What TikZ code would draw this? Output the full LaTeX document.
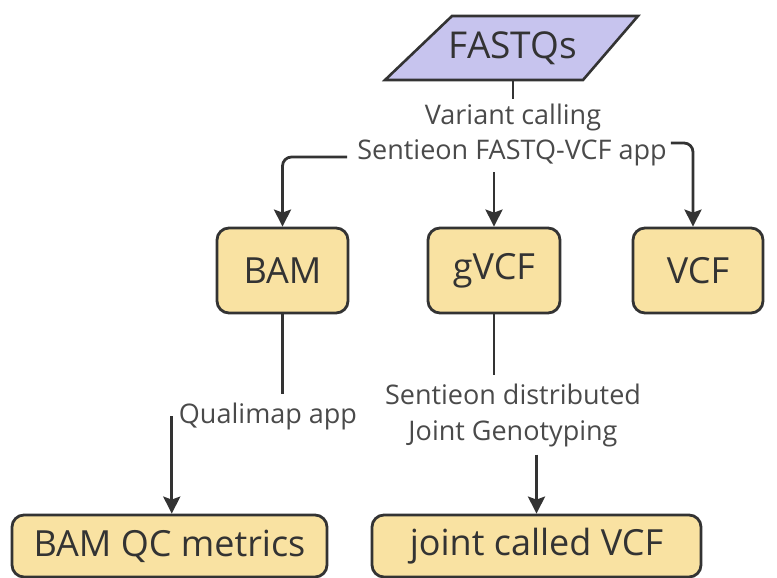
\documentclass[tikz,border=0pt]{standalone}
\usepackage{fontspec}
\setmainfont{Open Sans}
\usetikzlibrary{arrows.meta}
\definecolor{boxfill}{HTML}{F9E2A2}
\definecolor{parafill}{HTML}{C7C4EE}
\definecolor{edge}{HTML}{333333}
\definecolor{labcol}{HTML}{4A4A4A}
\tikzset{
  boxnode/.style={draw=edge, line width=2.8pt, fill=boxfill, rounded corners=12pt, text=edge, inner sep=0pt,
    font=\fontsize{36}{40}\selectfont},
  labnode/.style={text=labcol, inner sep=6pt, font=\fontsize{27}{36}\selectfont, align=center},
  conn/.style={draw=edge, line width=2.8pt},
  arr/.style={conn, -{Stealth[length=17pt,width=17pt,inset=3pt]}},
}
\begin{document}
\begin{tikzpicture}[x=1pt,y=-1pt]
\useasboundingbox (0,0) rectangle (777,578);
% parallelogram
\coordinate (pbl) at (385,80);
\coordinate (pbr) at (583,80);
\coordinate (ptr) at (638,16);
\coordinate (ptl) at (452,16);
\draw[draw=edge, line width=2.6pt, fill=parafill, line join=miter] (pbl) -- (pbr) -- (ptr) -- (ptl) -- cycle;
\node[minimum height=64pt, inner sep=0pt, text=edge, font=\fontsize{37}{42}\selectfont] (fastq) at (513,48) {FASTQs};

\node[labnode] (laba) at (513,117) {Variant calling};
\node[labnode] (labb) at (512,153) {Sentieon FASTQ-VCF app};

\node[boxnode, minimum width=131pt, minimum height=85pt] (bam) at (282.5,270.5) {BAM};
\node[boxnode, minimum width=132pt, minimum height=85pt] (gvcf) at (494,270.5) {gVCF};
\node[boxnode, minimum width=130pt, minimum height=85pt] (vcf) at (698,270.5) {VCF};

\node[labnode] (qlab) at (268,416) {Qualimap app};
\node[labnode] (jlab) at (513,415) {Sentieon distributed\\Joint Genotyping};

\node[boxnode, minimum width=315pt, minimum height=62pt] (bamqc) at (169.5,546) {BAM QC metrics};
\node[boxnode, minimum width=329pt, minimum height=62pt] (jvcf) at (536.5,546) {joint called VCF};

% connectors
\draw[conn] (fastq.south -| 513,0) -- ([yshift=-2pt]laba.north -| 513,0);
\draw[arr, rounded corners=9pt] ([xshift=-4pt,yshift=-4pt]labb.west) -| (bam.north);
\draw[arr, rounded corners=9pt] ([xshift=-2pt,yshift=10pt]labb.east) -| ([xshift=-5pt]vcf.north);
\draw[arr] (labb.south -| gvcf.north) -- (gvcf.north);
\draw[conn] (bam.south) -- ([yshift=2pt]bam.south |- qlab.north);
\draw[arr] ([xshift=-1pt]qlab.west) -- ([xshift=-1pt]qlab.west |- bamqc.north);
\draw[conn] (gvcf.south) -- ([yshift=2pt]gvcf.south |- jlab.north);
\draw[arr] ([yshift=-2pt]jlab.south -| jvcf.north) -- (jvcf.north);
\end{tikzpicture}
\end{document}
